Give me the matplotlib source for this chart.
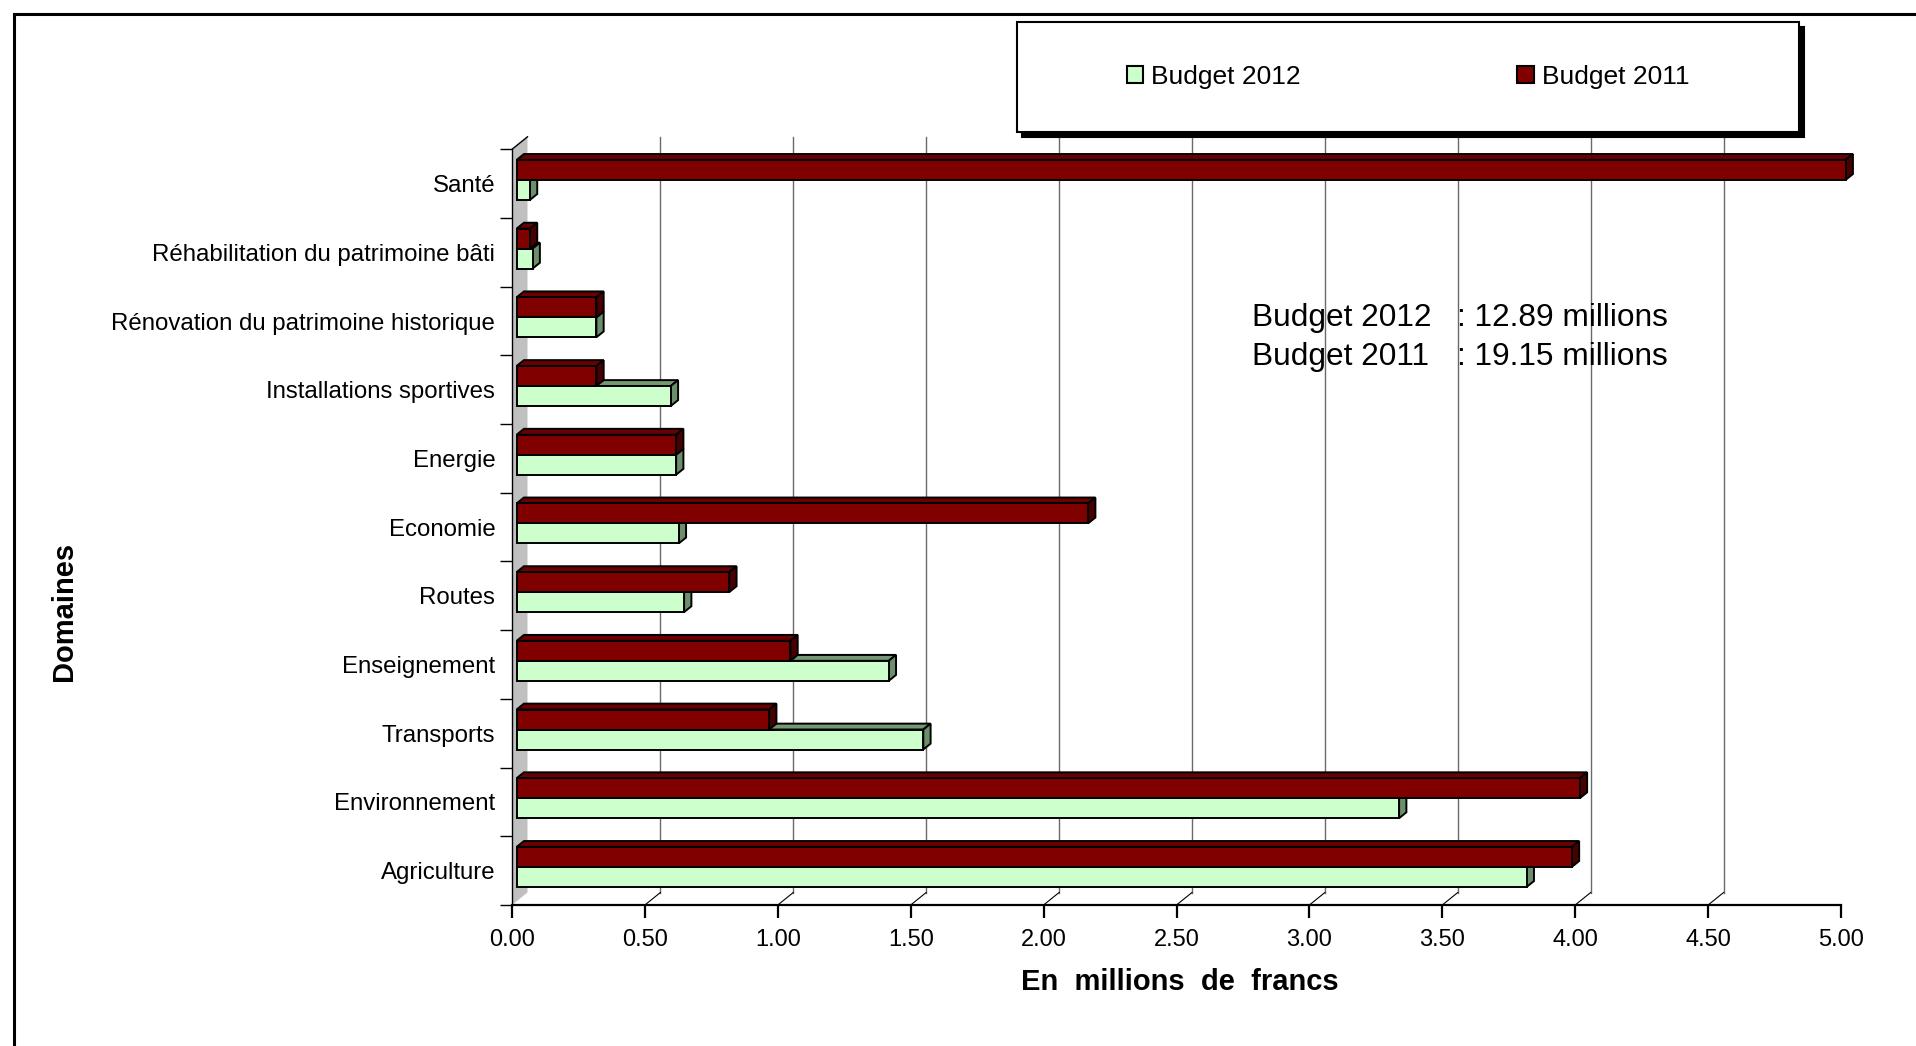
import numpy as np
import matplotlib.pyplot as plt
from matplotlib.patches import Polygon, Rectangle, Patch

plt.rcParams['font.family'] = ['Liberation Sans', 'DejaVu Sans']

# categories from bottom to top
domaines = ['Agriculture', 'Environnement', 'Transports', 'Enseignement', 'Routes',
            'Economie', 'Energie', 'Installations sportives',
            'Rénovation du patrimoine historique', 'Réhabilitation du patrimoine bâti', 'Santé']
budget_2012 = [3.80, 3.32, 1.53, 1.40, 0.63, 0.61, 0.60, 0.58, 0.30, 0.06, 0.05]
budget_2011 = [3.97, 4.00, 0.95, 1.03, 0.80, 2.15, 0.60, 0.30, 0.30, 0.05, 5.00]
x_ticks = np.arange(0, 5.01, 0.5)

W, H = 1916, 1046
fig = plt.figure(figsize=(W / 100, H / 100), dpi=100)
ax = fig.add_axes([512 / W, 1 - 905 / H, (1841 - 512) / W, (905 - 149.3) / H])
n = len(domaines)
ax.set_xlim(0, 5)
ax.set_ylim(-0.5, n - 0.5)

# pixel sizes -> data units
sx = (1841 - 512) / 5
sy = (905 - 149.3) / n
dep_x = 15.5 / sx
dep_y = 12.5 / sy
bar_h = 20 / sy
lw = 1.4

# back wall + gridlines
ax.add_patch(Polygon([(0, -0.5), (dep_x, -0.5 + dep_y), (dep_x, n - 0.5 + dep_y), (0, n - 0.5)],
                     fc='#c0c0c0', ec='none', clip_on=False, zorder=1))
ax.plot([0, dep_x], [n - 0.5, n - 0.5 + dep_y], color='k', lw=1, clip_on=False, zorder=2)
for v in x_ticks[1:-1]:
    ax.plot([v + dep_x] * 2, [-0.5 + dep_y, n - 0.5 + dep_y], color='#6a6a6a', lw=1,
            clip_on=False, zorder=1)
    ax.plot([v, v + dep_x], [-0.5, -0.5 + dep_y], color='k', lw=0.8, clip_on=False, zorder=1)


def bars3d(vals, below, front, top, side, z):
    x0 = 0.3 * dep_x
    bx, by = 0.47 * dep_x, 0.47 * dep_y
    for i, v in enumerate(vals):
        c = i + 0.3 * dep_y
        y0 = c - bar_h if below else c
        y1 = y0 + bar_h
        x1 = x0 + v
        ax.add_patch(Polygon([(x0, y1), (x0 + bx, y1 + by), (x1 + bx, y1 + by), (x1, y1)],
                             fc=top, ec='k', lw=lw, zorder=z, clip_on=False))
        ax.add_patch(Polygon([(x1, y0), (x1 + bx, y0 + by), (x1 + bx, y1 + by), (x1, y1)],
                             fc=side, ec='k', lw=lw, zorder=z, clip_on=False))
    ys = np.arange(n) + 0.3 * dep_y
    fronts = ax.barh(ys - bar_h if below else ys, vals, height=bar_h, left=x0, align='edge',
                     color=front, edgecolor='k', lw=lw, zorder=z + 1)
    for p in fronts:
        p.set_clip_on(False)


bars3d(budget_2012, True, '#ccffcc', '#739873', '#6b8e6b', 3)
bars3d(budget_2011, False, '#800000', '#6a0000', '#480000', 5)

# axes
for s in ['top', 'right']:
    ax.spines[s].set_visible(False)
ax.spines['left'].set_linewidth(1)
ax.spines['bottom'].set_linewidth(1.6)
ax.set_xticks(x_ticks)
ax.set_xticklabels([f'{t:.2f}' for t in x_ticks])
ax.tick_params(axis='x', direction='out', length=9, width=1.6, labelsize=17, pad=8)
ax.set_yticks(np.arange(-0.5, n, 1))
ax.set_yticklabels([])
ax.set_yticks(np.arange(n), minor=True)
ax.set_yticklabels(domaines, minor=True)
ax.tick_params(axis='y', which='major', direction='out', length=9, width=1)
ax.tick_params(axis='y', which='minor', length=0, pad=12, labelsize=17.3)

fig.text(63.5 / W, 1 - 611 / H, 'Domaines', rotation=90, fontsize=21, fontweight='bold',
         ha='center', va='center')
fig.text(1180 / W, 1 - 982 / H, 'En  millions  de  francs', fontsize=21, fontweight='bold',
         ha='center', va='center')

# totals
fig.text(1252 / W, 1 - 325.7 / H, 'Budget 2012', fontsize=22.8, va='baseline')
fig.text(1457 / W, 1 - 325.7 / H, ': 12.89 millions', fontsize=22.8, va='baseline')
fig.text(1252 / W, 1 - 365 / H, 'Budget 2011', fontsize=22.8, va='baseline')
fig.text(1457 / W, 1 - 365 / H, ': 19.15 millions', fontsize=22.8, va='baseline')

# legend box with shadow
lx0, ly0, lx1, ly1 = 1017, 22, 1799, 132
fig.add_artist(Rectangle(((lx0 + 5) / W, 1 - (ly1 + 5) / H), (lx1 - lx0) / W, (ly1 - ly0) / H,
                         transform=fig.transFigure, fc='k', ec='k', lw=1.5))
fig.add_artist(Rectangle((lx0 / W, 1 - ly1 / H), (lx1 - lx0) / W, (ly1 - ly0) / H,
                         transform=fig.transFigure, fc='white', ec='k', lw=1.5))
handles = [Patch(fc='#ccffcc', ec='k', lw=1.5, label='Budget 2012'),
           Patch(fc='#800000', ec='k', lw=1.5, label='Budget 2011')]
fig.legend(handles=handles, loc='center', bbox_to_anchor=(1408 / W, 1 - 77 / H), ncol=2,
           frameon=False, fontsize=19, handlelength=0.62, handleheight=0.62,
           handletextpad=0.3, columnspacing=8.2)

# outer frame
fig.add_artist(Rectangle((14 / W, -0.2), 1.3, 1.2 - 14 / H, transform=fig.transFigure,
                         fill=False, ec='k', lw=2.2, clip_on=False))

fig.savefig('out.png', dpi=100)
